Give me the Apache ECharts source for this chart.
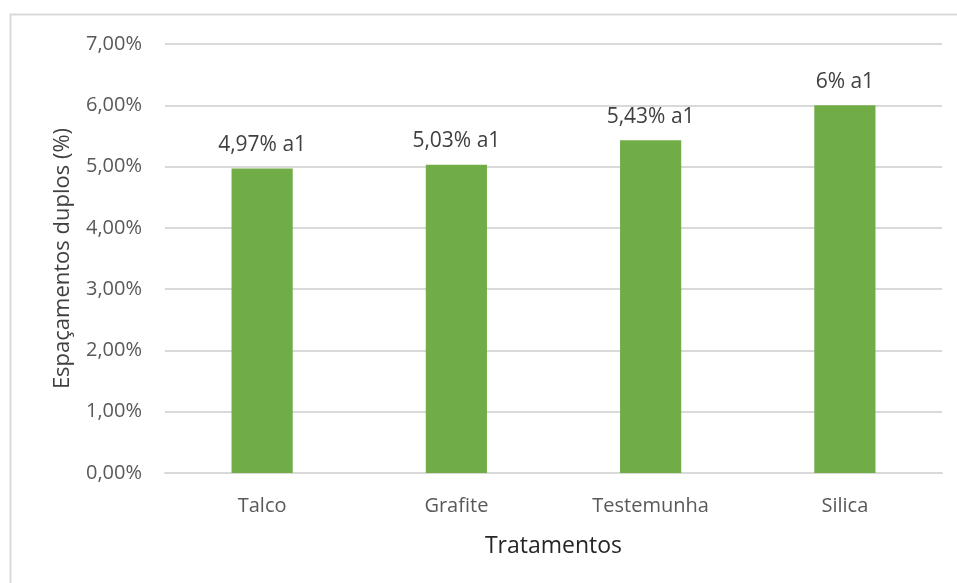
<!DOCTYPE html>
<html><head><meta charset="utf-8">
<script src="https://cdn.jsdelivr.net/npm/echarts@6/dist/echarts.min.js"></script>
<style>html,body{margin:0;padding:0;background:#fff}#c{width:957px;height:583px}</style>
</head><body><div id="c"></div>
<script>
const categories = ["Talco", "Grafite", "Testemunha", "Silica"];
const values = [4.97, 5.03, 5.43, 6.00];
const barLabels = ["4,97% a1", "5,03% a1", "5,43% a1", "6% a1"];
const yTicks = [0, 1, 2, 3, 4, 5, 6, 7];

const font = '"Open Sans", "Noto Sans", sans-serif';
const chart = echarts.init(document.getElementById('c'), null, {renderer: 'canvas'});
chart.setOption({
  animation: false,
  backgroundColor: '#fff',
  graphic: [{type: 'rect', shape: {x: 10.5, y: 14.5, width: 960, height: 600}, style: {fill: 'none', stroke: '#d9d9d9', lineWidth: 2}, silent: true}],
  grid: {left: 165, right: 15, top: 44, bottom: 110},
  xAxis: {
    type: 'category', data: categories,
    axisLine: {lineStyle: {color: '#d9d9d9', width: 2}},
    axisTick: {show: false},
    axisLabel: {color: '#595959', fontSize: 20, fontFamily: font, margin: 23},
    name: 'Tratamentos', nameLocation: 'middle', nameGap: 62,
    nameTextStyle: {color: '#262626', fontSize: 23, fontFamily: font}
  },
  yAxis: {
    type: 'value', min: yTicks[0], max: yTicks[yTicks.length - 1], interval: 1,
    axisLine: {show: false}, axisTick: {show: false},
    splitLine: {lineStyle: {color: '#d9d9d9', width: 2}},
    axisLabel: {color: '#595959', fontSize: 20, fontFamily: font, margin: 23,
      formatter: v => v.toFixed(2).replace('.', ',') + '%'},
    name: 'Espaçamentos duplos (%)', nameLocation: 'middle', nameGap: 91,
    nameTextStyle: {color: '#404040', fontSize: 22, fontFamily: font}
  },
  series: [{
    type: 'bar', data: values, barWidth: '31.5%',
    itemStyle: {color: '#70ad47'},
    label: {show: true, position: 'top', distance: 13, color: '#404040', fontSize: 21, fontFamily: font,
      formatter: p => barLabels[p.dataIndex]}
  }]
});
</script></body></html>
